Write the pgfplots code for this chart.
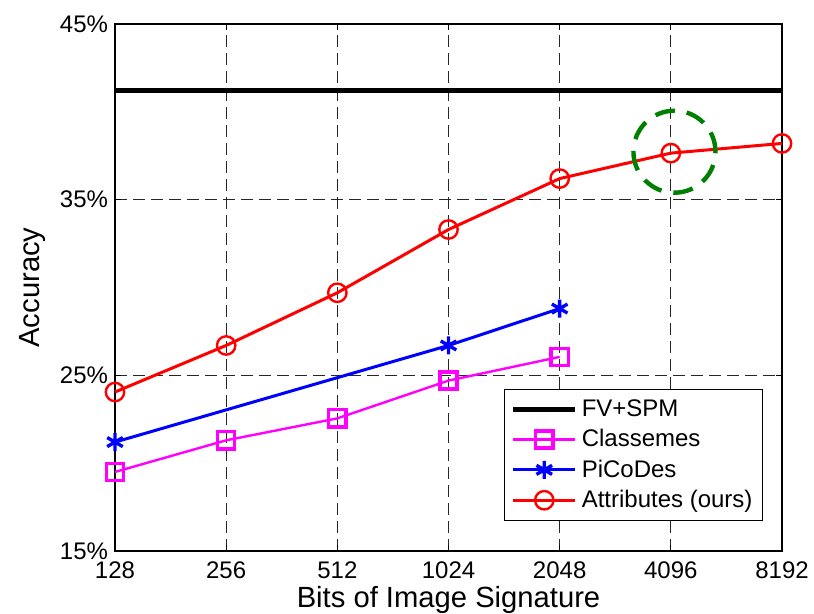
\documentclass[border=0pt]{standalone}
\usepackage{pgfplots}
\pgfplotsset{compat=1.18}
\usepackage{fontspec}
\setmainfont{Liberation Sans}
\definecolor{dgreen}{RGB}{0,128,0}
\definecolor{mag}{RGB}{255,0,255}
\begin{document}
\begin{tikzpicture}
\useasboundingbox (-57.5pt,-31.5pt) rectangle (349.5pt,275.5pt);
\begin{axis}[
 at={(0,0)}, anchor=south west,
 scale only axis, width=333.5pt, height=263.5pt,
 xmode=log, log basis x=2,
 xmin=128, xmax=8192, ymin=15, ymax=45,
 xtick={128,256,512,1024,2048,4096,8192},
 xticklabels={128,256,512,1024,2048,4096,8192},
 ytick={15,25,35,45},
 yticklabels={15\%,25\%,35\%,45\%},
 minor xtick={}, minor ytick={},
 /pgf/number format/assume math mode=true,
 grid=major,
 major grid style={black!85, line width=0.5pt, dash pattern=on 6pt off 3pt},
 tick align=inside, major tick length=3pt,
 axis line style={black, line width=0.6pt},
 tick style={black, line width=0.5pt},
 tick label style={font=\fontsize{12}{13}\selectfont},
 xticklabel style={yshift=-2pt},
 label style={font=\fontsize{14.6}{16}\selectfont},
 xlabel={Bits of Image Signature},
 ylabel={Accuracy},
 xlabel style={at={(axis description cs:0.5,-0.093)}, anchor=center},
 ylabel style={at={(axis description cs:-0.124,0.5)}, anchor=center},
 clip=false,
 legend style={at={(rel axis cs:0.9715,0.057)}, anchor=south east, draw=black, line width=0.5pt,
   font=\fontsize{12}{13}\selectfont, cells={anchor=west}, inner xsep=3pt, inner ysep=3pt, row sep=1pt},
 legend image code/.code={\draw[mark repeat=2,mark phase=2,#1] plot coordinates {(0pt,0pt) (15.5pt,0pt) (31pt,0pt)};},
]
\addplot[black, line width=2.5pt] coordinates {(128,41.2) (8192,41.2)};
\addlegendentry{FV+SPM}
\addplot[mag, line width=1.2pt, mark=square, mark size=4.3pt, mark options={line width=1.7pt}] coordinates {
 (128,19.5) (256,21.3) (512,22.55) (1024,24.7) (2048,26.05)};
\addlegendentry{Classemes}
\addplot[blue, line width=1.5pt, mark=asterisk, mark size=4.5pt, mark options={line width=1.7pt}] coordinates {
 (128,21.2) (1024,26.7) (2048,28.8)};
\addlegendentry{PiCoDes}
\addplot[red, line width=1.5pt, mark=o, mark size=4.6pt, mark options={line width=1.2pt}] coordinates {
 (128,24.05) (256,26.7) (512,29.7) (1024,33.3) (2048,36.2) (4096,37.65) (8192,38.2)};
\addlegendentry{Attributes (ours)}
\draw[dgreen, line width=2.2pt, dash pattern=on 10pt off 6pt] ([xshift=1.8pt]axis cs:4096,37.73) circle[radius=20.5pt];
\end{axis}
\end{tikzpicture}
\end{document}
